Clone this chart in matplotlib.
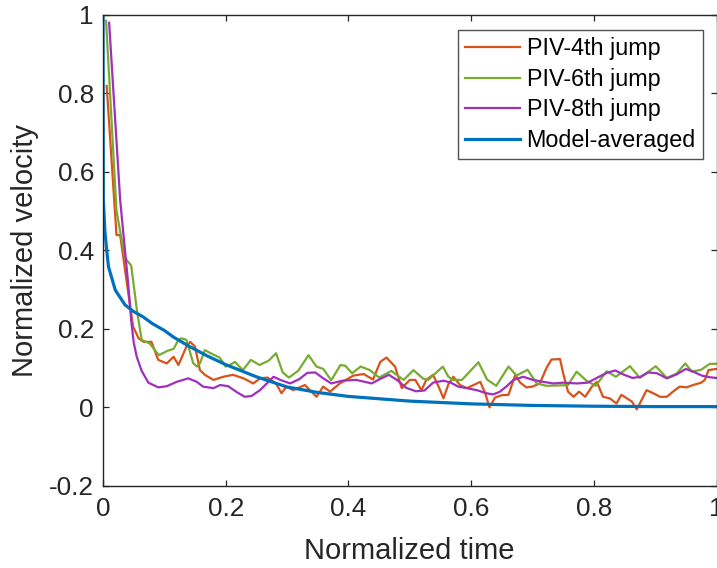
import matplotlib
matplotlib.use("Agg")
import matplotlib.pyplot as plt
from matplotlib import font_manager

# ---------------- data ----------------
piv4_pts = [(0.006,0.818),(0.022,0.438),(0.028,0.438),(0.039,0.315),(0.049,0.205),(0.058,0.175),
            (0.066,0.166),(0.079,0.166),(0.09,0.12),(0.104,0.111),(0.115,0.128),(0.123,0.107),
            (0.136,0.154),(0.142,0.166),(0.15,0.154),(0.158,0.094),(0.166,0.082),(0.18,0.069),
            (0.196,0.077),(0.212,0.082),(0.229,0.073),(0.245,0.06),(0.256,0.073),(0.268,0.075),
            (0.282,0.06),(0.291,0.035),(0.299,0.052),(0.31,0.043),(0.329,0.056),(0.348,0.026),
            (0.359,0.052),(0.37,0.039),(0.386,0.06),(0.408,0.08),(0.425,0.084),(0.44,0.07),
            (0.452,0.115),(0.462,0.126),(0.476,0.103),(0.487,0.048),(0.5,0.069),(0.509,0.069),
            (0.519,0.043),(0.527,0.069),(0.538,0.082),(0.547,0.052),(0.555,0.022),(0.563,0.058),
            (0.571,0.077),(0.582,0.056),(0.593,0.048),(0.604,0.056),(0.615,0.064),(0.623,0.035),
            (0.63,-0.001),(0.639,0.024),(0.65,0.03),(0.661,0.031),(0.672,0.082),(0.68,0.062),
            (0.69,0.05),(0.7,0.052),(0.712,0.06),(0.723,0.1),(0.731,0.121),(0.745,0.122),
            (0.75,0.086),(0.758,0.039),(0.767,0.026),(0.776,0.039),(0.786,0.026),(0.797,0.052),
            (0.805,0.064),(0.815,0.026),(0.826,0.022),(0.837,0.009),(0.845,0.031),(0.854,0.022),
            (0.862,0.014),(0.87,-0.006),(0.878,0.018),(0.886,0.043),(0.897,0.035),(0.908,0.026),
            (0.919,0.026),(0.929,0.039),(0.94,0.052),(0.951,0.05),(0.962,0.056),(0.975,0.062),
            (0.981,0.069),(0.987,0.094),(1.0,0.097)]

piv6_pts = [(0.005,0.984),(0.022,0.5),(0.03,0.43),(0.036,0.38),(0.046,0.36),(0.055,0.25),
            (0.063,0.171),(0.076,0.162),(0.091,0.132),(0.105,0.143),(0.115,0.148),(0.123,0.171),
            (0.128,0.175),(0.136,0.171),(0.147,0.112),(0.153,0.103),(0.158,0.111),(0.166,0.145),
            (0.178,0.135),(0.19,0.126),(0.2,0.103),(0.207,0.107),(0.215,0.115),(0.228,0.094),
            (0.241,0.12),(0.255,0.107),(0.27,0.118),(0.282,0.137),(0.293,0.088),(0.303,0.075),
            (0.318,0.092),(0.335,0.132),(0.348,0.103),(0.359,0.097),(0.372,0.068),(0.387,0.107),
            (0.395,0.105),(0.406,0.086),(0.42,0.103),(0.435,0.094),(0.45,0.075),(0.47,0.092),
            (0.49,0.069),(0.506,0.094),(0.522,0.072),(0.53,0.069),(0.554,0.103),(0.563,0.077),
            (0.571,0.069),(0.585,0.069),(0.612,0.114),(0.626,0.07),(0.641,0.054),(0.661,0.103),
            (0.674,0.08),(0.692,0.095),(0.707,0.06),(0.723,0.054),(0.745,0.055),(0.758,0.056),
            (0.772,0.09),(0.788,0.067),(0.803,0.054),(0.821,0.091),(0.836,0.077),(0.859,0.104),
            (0.875,0.074),(0.901,0.104),(0.919,0.074),(0.935,0.085),(0.949,0.111),(0.96,0.09),
            (0.975,0.095),(0.989,0.11),(1.0,0.11)]

piv8_pts = [(0.01,0.979),(0.028,0.527),(0.041,0.315),(0.046,0.22),(0.05,0.165),(0.055,0.128),
            (0.063,0.092),(0.074,0.062),(0.09,0.05),(0.104,0.053),(0.12,0.064),(0.139,0.073),
            (0.153,0.064),(0.163,0.052),(0.18,0.048),(0.191,0.056),(0.204,0.053),(0.218,0.038),
            (0.231,0.026),(0.242,0.028),(0.256,0.043),(0.267,0.06),(0.278,0.077),(0.289,0.069),
            (0.305,0.06),(0.32,0.071),(0.333,0.087),(0.346,0.088),(0.359,0.073),(0.372,0.06),
            (0.39,0.067),(0.413,0.069),(0.438,0.06),(0.451,0.071),(0.466,0.082),(0.48,0.068),
            (0.494,0.049),(0.51,0.04),(0.524,0.042),(0.538,0.062),(0.555,0.067),(0.567,0.062),
            (0.579,0.052),(0.593,0.048),(0.609,0.043),(0.625,0.035),(0.636,0.032),(0.647,0.039),
            (0.658,0.053),(0.669,0.069),(0.685,0.077),(0.701,0.069),(0.718,0.064),(0.734,0.06),
            (0.75,0.062),(0.773,0.06),(0.79,0.062),(0.806,0.075),(0.821,0.087),(0.835,0.093),
            (0.848,0.083),(0.863,0.074),(0.876,0.077),(0.889,0.088),(0.903,0.086),(0.919,0.073),
            (0.935,0.083),(0.95,0.097),(0.962,0.09),(0.976,0.08),(0.988,0.076),(1.0,0.074)]

model_pts = [(0.0,1.0),(0.0005,0.53),(0.003,0.45),(0.006,0.4),(0.009,0.357),(0.02,0.298),
             (0.036,0.26),(0.05,0.243),(0.065,0.23),(0.08,0.213),(0.1,0.195),(0.115,0.178),
             (0.14,0.155),(0.17,0.13),(0.2,0.108),(0.25,0.077),(0.3,0.051),(0.35,0.037),
             (0.4,0.027),(0.45,0.021),(0.5,0.015),(0.6,0.008),(0.7,0.004),(0.8,0.002),
             (0.9,0.001),(1.0,0.001)]

series_labels = ["PIV-4th jump", "PIV-6th jump", "PIV-8th jump", "Model-averaged"]
series_colors = ["#D95319", "#77AC30", "#A02EBF", "#0072BD"]

x_ticks = [0, 0.2, 0.4, 0.6, 0.8, 1]
x_tick_labels = ["0", "0.2", "0.4", "0.6", "0.8", "1"]
y_ticks = [-0.2, 0, 0.2, 0.4, 0.6, 0.8, 1]
y_tick_labels = ["-0.2", "0", "0.2", "0.4", "0.6", "0.8", "1"]

# ---------------- fonts ----------------
names = {f.name for f in font_manager.fontManager.ttflist}
if "Liberation Sans Narrow" in names:
    narrow = ["Liberation Sans Narrow", "DejaVu Sans"]
    tick_fs, lab_fs = 21.4, 25
else:
    narrow = ["Liberation Sans", "DejaVu Sans"]
    tick_fs, lab_fs = 18.8, 21
regular = ["Liberation Sans", "DejaVu Sans"]

# ---------------- figure ----------------
W, H = 717, 568
fig = plt.figure(figsize=(W / 100, H / 100), dpi=100)
L, R, T, B = 103, 716.5, 14.5, 485.5
ax = fig.add_axes([L / W, 1 - B / H, (R - L) / W, (B - T) / H])

def unzip(pts):
    return [p[0] for p in pts], [p[1] for p in pts]

handles = []
for pts, lab, col in zip([piv4_pts, piv6_pts, piv8_pts], series_labels[:3], series_colors[:3]):
    xs, ys = unzip(pts)
    h, = ax.plot(xs, ys, color=col, lw=1.6, label=lab, solid_joinstyle="round")
    handles.append(h)
xs, ys = unzip(model_pts)
h, = ax.plot(xs, ys, color=series_colors[3], lw=2.3, label=series_labels[3])
handles.append(h)

ax.set_xlim(0, 1)
ax.set_ylim(-0.2, 1)
ax.set_xticks(x_ticks)
ax.set_xticklabels(x_tick_labels, fontfamily=narrow, fontsize=tick_fs, color="#262626")
ax.set_yticks(y_ticks)
ax.set_yticklabels(y_tick_labels, fontfamily=narrow, fontsize=tick_fs, color="#262626")
ax.tick_params(direction="in", length=4.5, width=0.9, color="#262626",
               top=True, right=True)
ax.tick_params(axis="x", pad=8.5)
ax.tick_params(axis="y", pad=6.5)
for s in ax.spines.values():
    s.set_color("#262626")
    s.set_linewidth(1.0)

ax.set_xlabel("Normalized time", fontfamily=narrow, fontsize=lab_fs, color="#262626", labelpad=11)
ax.set_ylabel("Normalized velocity", fontfamily=narrow, fontsize=lab_fs, color="#262626", labelpad=7)

leg = fig.legend(handles=handles, labels=series_labels, loc="upper left",
                 bbox_to_anchor=(457.7 / W, 1 - 30 / H), borderaxespad=0,
                 prop={"family": regular, "size": 16.8}, frameon=True, fancybox=False,
                 handlelength=2.35, handletextpad=0.28, borderpad=0.32, labelspacing=0.32)
leg.get_frame().set_edgecolor("#262626")
leg.get_frame().set_linewidth(1.0)

fig.savefig("out.png", dpi=100)
